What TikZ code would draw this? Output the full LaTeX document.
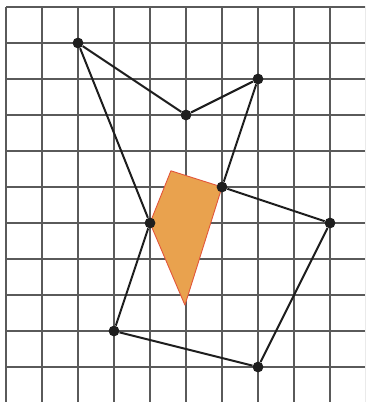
\documentclass[tikz,border=0pt]{standalone}
\usepackage{tikz}
\usetikzlibrary{positioning}
\definecolor{gridStroke}{HTML}{5A5A5A}
\definecolor{edgeStroke}{HTML}{1E1E1E}
\definecolor{shadeFill}{HTML}{E9A24E}
\definecolor{shadeStroke}{HTML}{E2553A}
\tikzset{
  gridln/.style={draw=gridStroke, line width=1.3pt},
  vtx/.style={circle, fill=edgeStroke, inner sep=0pt, minimum size=3mm},
  edge/.style={draw=edgeStroke, line width=1.6pt},
  shade/.style={fill=shadeFill, draw=shadeStroke, line width=0.7pt, line join=round}
}
\begin{document}
\begin{tikzpicture}

    \clip (-0.1667,0.1944) rectangle (9.972,-10.972);
    \fill[white] (-0.1667,0.1944) rectangle (9.972,-10.972);

    % square grid
    \draw[gridln] (0,-11) grid (10,0);

    % shaded quadrilateral
    \coordinate (sTop) at (4.58,-4.55);
    \coordinate (sRight) at (6,-5);
    \coordinate (sBot) at (4.97,-8.28);
    \coordinate (sLeft) at (4,-6);
    \path[shade] (sTop) -- (sRight) -- (sBot) -- (sLeft) -- cycle;

    % vertices
    \node[vtx] (a) at (2,-1) {};
    \node[vtx] (b) at (5,-3) {};
    \node[vtx] (c) at (7,-2) {};
    \node[vtx] (d) at (6,-5) {};
    \node[vtx] (e) at (4,-6) {};
    \node[vtx] (f) at (9,-6) {};
    \node[vtx] (g) at (3,-9) {};
    \node[vtx] (h) at (7,-10) {};

    \draw[edge] (a) -- (b);
    \draw[edge] (b) -- (c);
    \draw[edge] (c) -- (d);
    \draw[edge] (d) -- (f);
    \draw[edge] (f) -- (h);
    \draw[edge] (h) -- (g);
    \draw[edge] (g) -- (e);
    \draw[edge] (e) -- (a);

\end{tikzpicture}
\end{document}
